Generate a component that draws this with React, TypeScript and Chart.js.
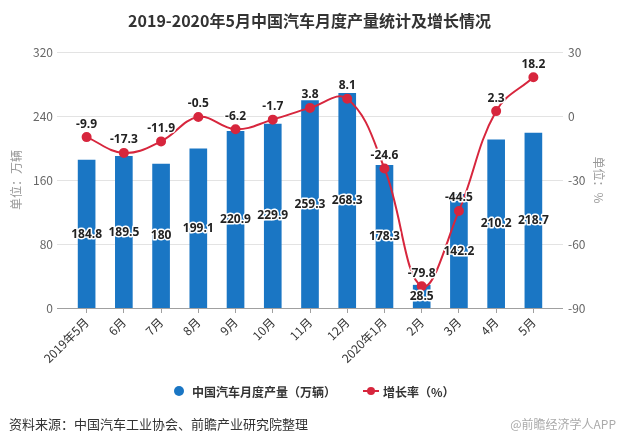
import React, { useEffect, useRef } from 'react';
import { Chart, registerables } from 'chart.js';

Chart.register(...registerables);

const categories = ['2019年5月', '6月', '7月', '8月', '9月', '10月', '11月', '12月', '2020年1月', '2月', '3月', '4月', '5月'];
const production = [184.8, 189.5, 180, 199.1, 220.9, 229.9, 259.3, 268.3, 178.3, 28.5, 142.2, 210.2, 218.7];
const growth = [-9.9, -17.3, -11.9, -0.5, -6.2, -1.7, 3.8, 8.1, -24.6, -79.8, -44.5, 2.3, 18.2];
const leftTicks = [0, 80, 160, 240, 320];
const rightTicks = [-90, -60, -30, 0, 30];

const FONT = '"Noto Sans CJK SC", "Noto Sans", sans-serif';
const LABEL_FONT = '"Open Sans", "Noto Sans", sans-serif';
const BAR_COLOR = '#1a76c4';
const LINE_COLOR = '#d7263d';

const extrasPlugin = {
  id: 'extras',
  beforeDatasetsDraw(chart: any) {
    const { ctx, chartArea: a, scales } = chart;
    const y = scales.y;
    ctx.save();
    ctx.lineWidth = 1;
    y.ticks.forEach((t: any) => {
      const py = Math.round(y.getPixelForValue(t.value)) + 0.5;
      ctx.strokeStyle = t.value === 0 ? '#a0a0a0' : '#e3e3e3';
      ctx.beginPath();
      ctx.moveTo(a.left - 11, py);
      ctx.lineTo(a.right + 11, py);
      ctx.stroke();
    });
    ctx.restore();
  },
  afterDatasetsDraw(chart: any) {
    const { ctx } = chart;
    ctx.save();
    ctx.font = `bold 12px ${LABEL_FONT}`;
    ctx.textAlign = 'center';
    ctx.textBaseline = 'middle';
    ctx.lineJoin = 'round';
    const drawLabel = (text: string, x: number, y: number) => {
      ctx.strokeStyle = '#ffffff';
      ctx.lineWidth = 3;
      ctx.strokeText(text, x, y);
      ctx.fillStyle = '#222222';
      ctx.fillText(text, x, y);
    };
    const barMeta = chart.getDatasetMeta(1);
    barMeta.data.forEach((el: any, i: number) => {
      drawLabel(String(production[i]), el.x, (el.y + el.base) / 2);
    });
    const lineMeta = chart.getDatasetMeta(0);
    lineMeta.data.forEach((el: any, i: number) => {
      drawLabel(String(growth[i]), el.x, el.y - 13);
    });
    ctx.restore();
  },
};

export default function App() {
  const ref = useRef<HTMLCanvasElement | null>(null);

  useEffect(() => {
    if (!ref.current) return;
    const chart = new Chart(ref.current, {
      type: 'bar',
      data: {
        labels: categories,
        datasets: [
          {
            type: 'line',
            label: '增长率（%）',
            data: growth,
            yAxisID: 'y1',
            borderColor: LINE_COLOR,
            backgroundColor: LINE_COLOR,
            borderWidth: 2,
            pointRadius: 4,
            pointBackgroundColor: LINE_COLOR,
            pointBorderColor: LINE_COLOR,
            tension: 0.4,
            order: 0,
          } as any,
          {
            type: 'bar',
            label: '中国汽车月度产量（万辆）',
            data: production,
            yAxisID: 'y',
            backgroundColor: BAR_COLOR,
            barThickness: 17,
            order: 1,
          } as any,
        ],
      },
      options: {
        responsive: false,
        animation: false,
        layout: { padding: { top: 0, left: 0, right: 0, bottom: 57 } },
        plugins: {
          legend: { display: false },
          tooltip: { enabled: false },
          title: {
            display: true,
            text: '2019-2020年5月中国汽车月度产量统计及增长情况',
            color: '#333333',
            font: { family: FONT, size: 16, weight: 'bold' },
            padding: { top: 11.5, bottom: 21.3 },
          },
        },
        scales: {
          x: {
            offset: true,
            grid: { display: true, drawOnChartArea: false, drawTicks: true, tickLength: 5, color: '#a0a0a0', offset: false },
            border: { display: false },
            ticks: {
              autoSkip: false,
              maxRotation: 45,
              minRotation: 45,
              color: '#333333',
              padding: 2,
              font: { family: FONT, size: 12 },
            },
            afterFit: (s: any) => { s.height = 80; },
          },
          y: {
            position: 'left',
            min: 0,
            max: 320,
            afterBuildTicks: (s: any) => { s.ticks = leftTicks.map((v) => ({ value: v })); },
            grid: { display: false, drawTicks: false },
            border: { display: false },
            ticks: { color: '#666666', padding: 15, font: { family: FONT, size: 12 } },
            title: {
              display: true,
              text: '单位：万辆',
              color: '#999999',
              font: { family: FONT, size: 12 },
              padding: { top: 9, bottom: 0 },
            },
            afterFit: (s: any) => { s.width = 68; },
          },
          y1: {
            position: 'right',
            min: -90,
            max: 30,
            afterBuildTicks: (s: any) => { s.ticks = rightTicks.map((v) => ({ value: v })); },
            grid: { display: false, drawTicks: false },
            border: { display: false },
            ticks: { color: '#666666', padding: 16, font: { family: FONT, size: 12 } },
            title: {
              display: true,
              text: '单位：%',
              color: '#999999',
              font: { family: FONT, size: 12 },
              padding: { top: 13, bottom: 0 },
            },
            afterFit: (s: any) => { s.width = 67; },
          },
        },
      } as any,
      plugins: [extrasPlugin],
    });
    return () => chart.destroy();
  }, []);

  return (
    <div style={{ position: 'fixed', left: 0, top: 0, width: 619, height: 445, background: '#ffffff', fontFamily: FONT }}>
      <canvas ref={ref} width={619} height={445} style={{ position: 'absolute', left: 0, top: 0 }} />
      <div style={{ position: 'absolute', left: 174, top: 383, height: 16, display: 'flex', alignItems: 'center', fontSize: 12, fontWeight: 'bold', color: '#333333', whiteSpace: 'nowrap' }}>
        <span style={{ display: 'inline-block', width: 10, height: 10, borderRadius: 5, background: BAR_COLOR, marginRight: 8 }} />
        <span>中国汽车月度产量（万辆）</span>
        <span style={{ position: 'relative', display: 'inline-block', width: 16, height: 10, marginLeft: 27, marginRight: 4 }}>
          <span style={{ position: 'absolute', left: 0, top: 4, width: 16, height: 2, background: LINE_COLOR }} />
          <span style={{ position: 'absolute', left: 4, top: 1, width: 8, height: 8, borderRadius: 4, background: LINE_COLOR }} />
        </span>
        <span>增长率（%）</span>
      </div>
      <div style={{ position: 'absolute', left: 9, top: 415, fontSize: 13, color: '#333333', whiteSpace: 'nowrap', lineHeight: '18px' }}>
        资料来源：中国汽车工业协会、前瞻产业研究院整理
      </div>
      <div style={{ position: 'absolute', right: 3, top: 415, fontSize: 12, color: '#aaaaaa', whiteSpace: 'nowrap', lineHeight: '18px' }}>
        @前瞻经济学人APP
      </div>
    </div>
  );
}
